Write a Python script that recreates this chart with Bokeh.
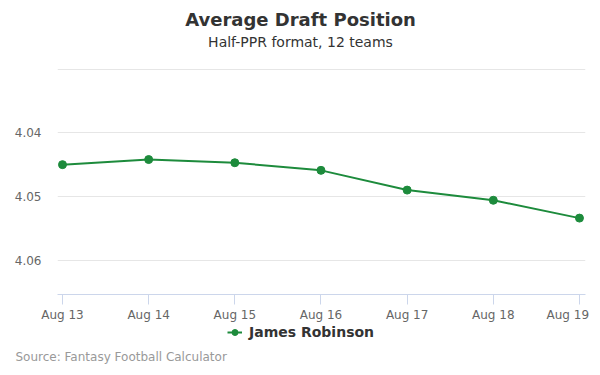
from bokeh.plotting import figure
from bokeh.layouts import column
from bokeh.models import Range1d, FixedTicker, Label, Legend, LegendItem, ColumnDataSource
from bokeh.embed import file_html
from bokeh.resources import INLINE

dates = ["Aug 13", "Aug 14", "Aug 15", "Aug 16", "Aug 17", "Aug 18", "Aug 19"]
adp = [4.0450, 4.0442, 4.0447, 4.0459, 4.0490, 4.0506, 4.0534]
y_ticks = [4.04, 4.05, 4.06]
grid_ticks = [4.03, 4.04, 4.05, 4.06]
player = "James Robinson"
title = "Average Draft Position"
subtitle = "Half-PPR format, 12 teams"
source_note = "Source: Fantasy Football Calculator"

FONT = "DejaVu Sans"
GREEN = "#1d8b3c"


def text_strip(height):
    f = figure(width=600, height=height, output_backend="svg", toolbar_location=None,
               x_range=Range1d(0, 600), y_range=Range1d(height, 0),
               x_axis_type=None, y_axis_type=None, min_border=0)
    f.outline_line_color = None
    f.grid.visible = False
    try:
        f.frame_align = False
    except Exception:
        f.x_range.start = 57
        f.x_range.end = 585
    return f


# ---- header ----
top = text_strip(68)
top.add_layout(Label(x=300, y=19, text=title, text_align="center", text_baseline="middle",
                     text_font=FONT, text_font_size="18px", text_font_style="bold",
                     text_color="#333333"))
top.add_layout(Label(x=300, y=41, text=subtitle, text_align="center", text_baseline="middle",
                     text_font=FONT, text_font_size="14px", text_color="#333333"))

# ---- main chart ----
x = list(range(len(dates)))
src = ColumnDataSource(dict(x=x, y=adp))

p = figure(frame_width=528, frame_height=226, output_backend="svg", toolbar_location=None,
           x_range=Range1d(-0.058, 6.07), y_range=Range1d(4.0654, 4.0299),
           min_border_left=57, min_border_right=15, min_border_top=0, min_border_bottom=28,
           title=None)
p.outline_line_color = None

p.line("x", "y", source=src, line_color=GREEN, line_width=2)
p.scatter("x", "y", source=src, size=8, fill_color=GREEN, line_color=GREEN)

p.xaxis.ticker = FixedTicker(ticks=x)
labels = list(dates)
labels[-1] = labels[-1] + "\u00a0" * 3
p.xaxis.major_label_overrides = {i: d for i, d in enumerate(labels)}
p.xaxis.axis_line_color = "#ccd6eb"
p.xaxis.major_tick_line_color = "#ccd6eb"
p.xaxis.major_tick_out = 10
p.xaxis.major_tick_in = 0
p.xaxis.minor_tick_line_color = None
p.xaxis.major_label_text_font = FONT
p.xaxis.major_label_text_font_size = "12px"
p.xaxis.major_label_text_color = "#666666"
p.xaxis.major_label_standoff = 3

p.yaxis.ticker = FixedTicker(ticks=y_ticks)
p.yaxis.axis_line_color = None
p.yaxis.major_tick_line_color = None
p.yaxis.minor_tick_line_color = None
p.yaxis.major_tick_out = 0
p.yaxis.major_tick_in = 0
p.yaxis.major_label_standoff = 16
p.yaxis.major_label_text_font = FONT
p.yaxis.major_label_text_font_size = "12px"
p.yaxis.major_label_text_color = "#666666"

p.xgrid.grid_line_color = None
p.ygrid.ticker = FixedTicker(ticks=grid_ticks)
p.ygrid.grid_line_color = "#e6e6e6"

# ---- footer: legend + source ----
bot = text_strip(53)
nan = float("nan")
lg_line = bot.line(x=[nan], y=[nan], line_color=GREEN, line_width=2)
lg_dot = bot.scatter(x=[nan], y=[nan], size=8, fill_color=GREEN, line_color=GREEN)
legend = Legend(items=[LegendItem(label=player, renderers=[lg_line, lg_dot])],
                orientation="horizontal", location=(227, 35),
                border_line_color=None, background_fill_alpha=0,
                label_text_font=FONT, label_text_font_size="14px",
                label_text_font_style="bold", label_text_color="#333333",
                glyph_width=15, glyph_height=20, label_height=20, label_standoff=7,
                padding=0, margin=0, spacing=0)
bot.add_layout(legend, "center")
bot.add_layout(Label(x=15, y=32, text=source_note, text_align="left", text_baseline="middle",
                     text_font=FONT, text_font_size="12px", text_color="#999999"))

layout = column(top, p, bot, spacing=0)
open("out.html", "w").write(file_html(layout, INLINE))
